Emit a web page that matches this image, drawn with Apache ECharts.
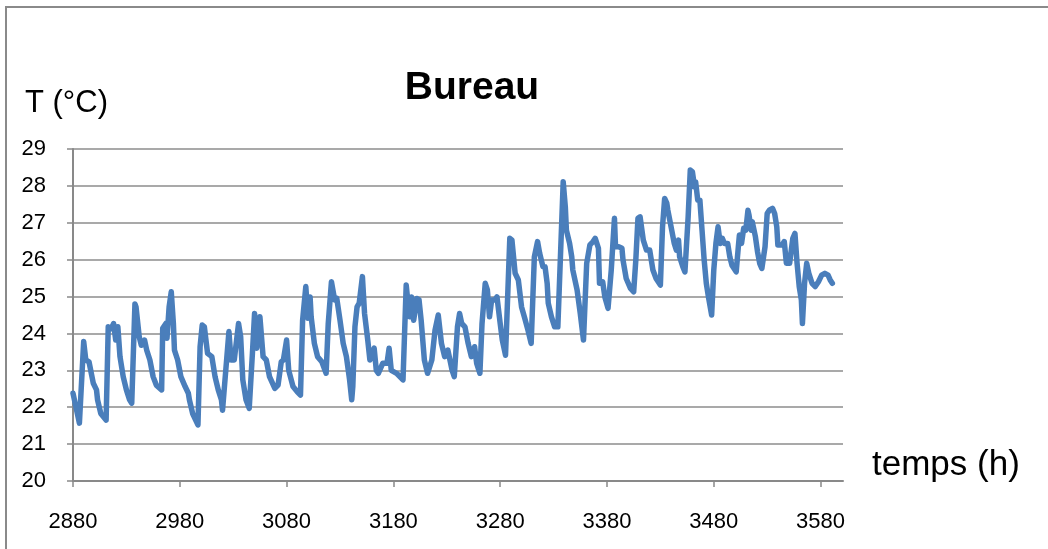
<!DOCTYPE html>
<html><head><meta charset="utf-8">
<script src="https://cdn.jsdelivr.net/npm/echarts@6/dist/echarts.min.js"></script>
<style>html,body{margin:0;padding:0;background:#fff}#c{width:1048px;height:549px}</style>
</head><body><div id="c"></div>
<script>
const hours = [2880,2886,2890,2892,2895,2899,2902,2903,2906,2911,
2913,2916,2918,2920,2922,2924,2927,2930,2933,2935,
2938,2939,2942,2944,2947,2949,2952,2955,2958,2963,
2964,2967,2968,2970,2972,2974,2975,2978,2981,2985,
2988,2989,2992,2997,2999,3001,3003,3006,3010,3013,
3016,3019,3020,3026,3028,3031,3035,3037,3039,3042,
3045,3048,3050,3052,3055,3058,3061,3064,3069,3072,
3075,3077,3080,3082,3086,3090,3093,3095,3098,3100,
3102,3103,3106,3109,3113,3117,3119,3122,3125,3127,
3130,3133,3136,3139,3141,3142,3144,3146,3148,3151,
3153,3156,3158,3162,3164,3166,3170,3174,3176,3178,
3183,3186,3189,3192,3195,3197,3199,3202,3204,3206,
3209,3212,3216,3219,3222,3225,3228,3231,3235,3237,
3240,3242,3244,3247,3250,3253,3256,3258,3261,3263,
3266,3268,3270,3272,3275,3277,3280,3282,3285,3287,
3289,3291,3294,3297,3300,3303,3306,3309,3312,3315,
3317,3320,3322,3324,3325,3328,3331,3334,3339,3341,
3342,3345,3347,3348,3352,3355,3358,3361,3364,3367,
3369,3372,3373,3376,3378,3381,3384,3387,3388,3391,
3394,3395,3398,3402,3405,3407,3409,3411,3414,3417,
3420,3423,3426,3430,3432,3434,3436,3437,3440,3443,
3445,3447,3448,3451,3453,3456,3458,3460,3462,3463,
3465,3467,3469,3471,3473,3475,3478,3480,3482,3484,
3486,3488,3490,3493,3495,3497,3501,3503,3504,3506,
3508,3510,3512,3513,3515,3516,3519,3521,3523,3525,
3528,3530,3532,3535,3537,3539,3540,3544,3546,3548,
3551,3554,3556,3558,3560,3562,3563,3565,3567,3569,
3572,3575,3578,3581,3584,3587,3589,3591];

const temps = [22.38,21.57,23.78,23.28,23.23,22.65,22.47,22.2,21.83,21.65,
24.18,24.13,24.27,23.82,24.18,23.37,22.83,22.47,22.2,22.11,
24.80,24.72,23.91,23.68,23.82,23.55,23.28,22.83,22.6,22.47,
24.14,24.27,23.87,24.72,25.13,24.27,23.55,23.28,22.83,22.56,
22.38,22.2,21.83,21.52,23.64,24.23,24.18,23.46,23.37,22.83,
22.47,22.2,21.92,24.05,23.28,23.28,24.27,23.91,22.74,22.2,
21.97,23.46,24.54,23.6,24.45,23.37,23.28,22.83,22.51,22.6,
23.23,23.28,23.82,23.0,22.56,22.42,22.33,24.36,25.27,24.41,
24.99,24.45,23.73,23.37,23.23,22.92,24.27,25.40,24.91,24.95,
24.36,23.73,23.37,22.74,22.2,22.56,24.18,24.72,24.82,25.54,
24.54,23.82,23.28,23.6,23.0,22.92,23.19,23.19,23.6,23.0,
22.92,22.83,22.74,25.31,24.45,24.99,24.36,24.95,24.91,24.36,
23.28,22.92,23.28,24.09,24.5,23.73,23.37,23.55,23.0,22.83,
24.18,24.54,24.27,24.18,23.73,23.37,23.64,23.19,22.92,24.27,
25.36,25.18,24.45,24.91,24.91,24.99,24.27,23.82,23.41,24.99,
26.58,26.53,25.63,25.45,24.72,24.41,24.09,23.73,26.08,26.49,
26.17,25.81,25.81,25.36,24.82,24.45,24.18,24.18,28.11,27.43,
26.8,26.44,26.08,25.72,25.18,24.54,23.82,25.9,26.4,26.49,
26.58,26.31,25.36,25.4,24.99,24.68,25.72,27.12,26.35,26.35,
26.31,25.99,25.49,25.22,25.13,25.99,27.12,27.16,26.53,26.26,
26.26,25.72,25.49,25.31,26.89,27.66,27.53,27.34,26.89,26.44,
26.26,26.53,26.08,25.81,25.67,27.16,28.43,28.38,27.97,28.11,
27.61,27.61,26.8,25.99,25.36,24.99,24.5,25.72,26.44,26.89,
26.44,26.58,26.44,26.44,26.08,25.85,25.67,26.35,26.67,26.44,
26.85,26.8,27.34,27.21,26.8,27.03,26.62,26.21,25.9,25.76,
26.35,27.25,27.34,27.39,27.25,26.89,26.4,26.4,26.49,25.9,
25.9,26.58,26.71,25.9,25.27,24.91,24.27,25.36,25.9,25.63,
25.36,25.27,25.4,25.58,25.63,25.58,25.45,25.36];

const xTicks = [2880,2980,3080,3180,3280,3380,3480,3580];
const yMin = 20, yMax = 29;
const xMin = 2880, xMax = 3601;

const FONT = 'Liberation Sans, Arial, sans-serif';
const chart = echarts.init(document.getElementById('c'), null, {renderer: 'canvas'});
const seriesData = hours.map((h, i) => [h, temps[i]]);

chart.setOption({
  animation: false,
  backgroundColor: '#ffffff',
  grid: {left: 73, right: 205, top: 149, bottom: 68, containLabel: false},
  xAxis: {
    type: 'value', min: xMin, max: xMax, interval: 100,
    axisLine: {show: true, lineStyle: {color: '#898989', width: 2}},
    axisTick: {show: true, inside: false, length: 6, customValues: xTicks, lineStyle: {color: '#898989', width: 1.5}},
    axisLabel: {customValues: xTicks, margin: 30, fontSize: 22, color: '#000', fontFamily: FONT,
      formatter: v => String(v)},
    splitLine: {show: false}
  },
  yAxis: {
    type: 'value', min: yMin, max: yMax, interval: 1,
    axisLine: {show: true, lineStyle: {color: '#898989', width: 2}},
    axisTick: {show: true, inside: false, length: 6, lineStyle: {color: '#898989', width: 1.5}},
    axisLabel: {margin: 27, fontSize: 22, color: '#000', fontFamily: FONT},
    splitLine: {show: true, lineStyle: {color: '#8c8c8c', width: 1.5}}
  },
  series: [{
    type: 'line', data: seriesData, showSymbol: false, symbol: 'none',
    lineStyle: {color: '#4a7ebb', width: 5.5, join: 'round', cap: 'round'},
    itemStyle: {color: '#4a7ebb'}
  }],
  graphic: [
    {type: 'rect', shape: {x: 6, y: 7, width: 1200, height: 700}, style: {fill: 'none', stroke: '#8a8a8a', lineWidth: 2}, silent: true},
    {type: 'text', x: 472, y: 88, style: {text: 'Bureau', font: 'bold 39px ' + FONT, fill: '#000', textAlign: 'center', textVerticalAlign: 'middle'}},
    {type: 'text', x: 25, y: 103, style: {text: 'T (°C)', font: '31px ' + FONT, fill: '#000', textAlign: 'left', textVerticalAlign: 'middle'}},
    {type: 'text', x: 872, y: 465, style: {text: 'temps (h)', font: '35px ' + FONT, fill: '#000', textAlign: 'left', textVerticalAlign: 'middle'}}
  ]
});
</script>
</body></html>
